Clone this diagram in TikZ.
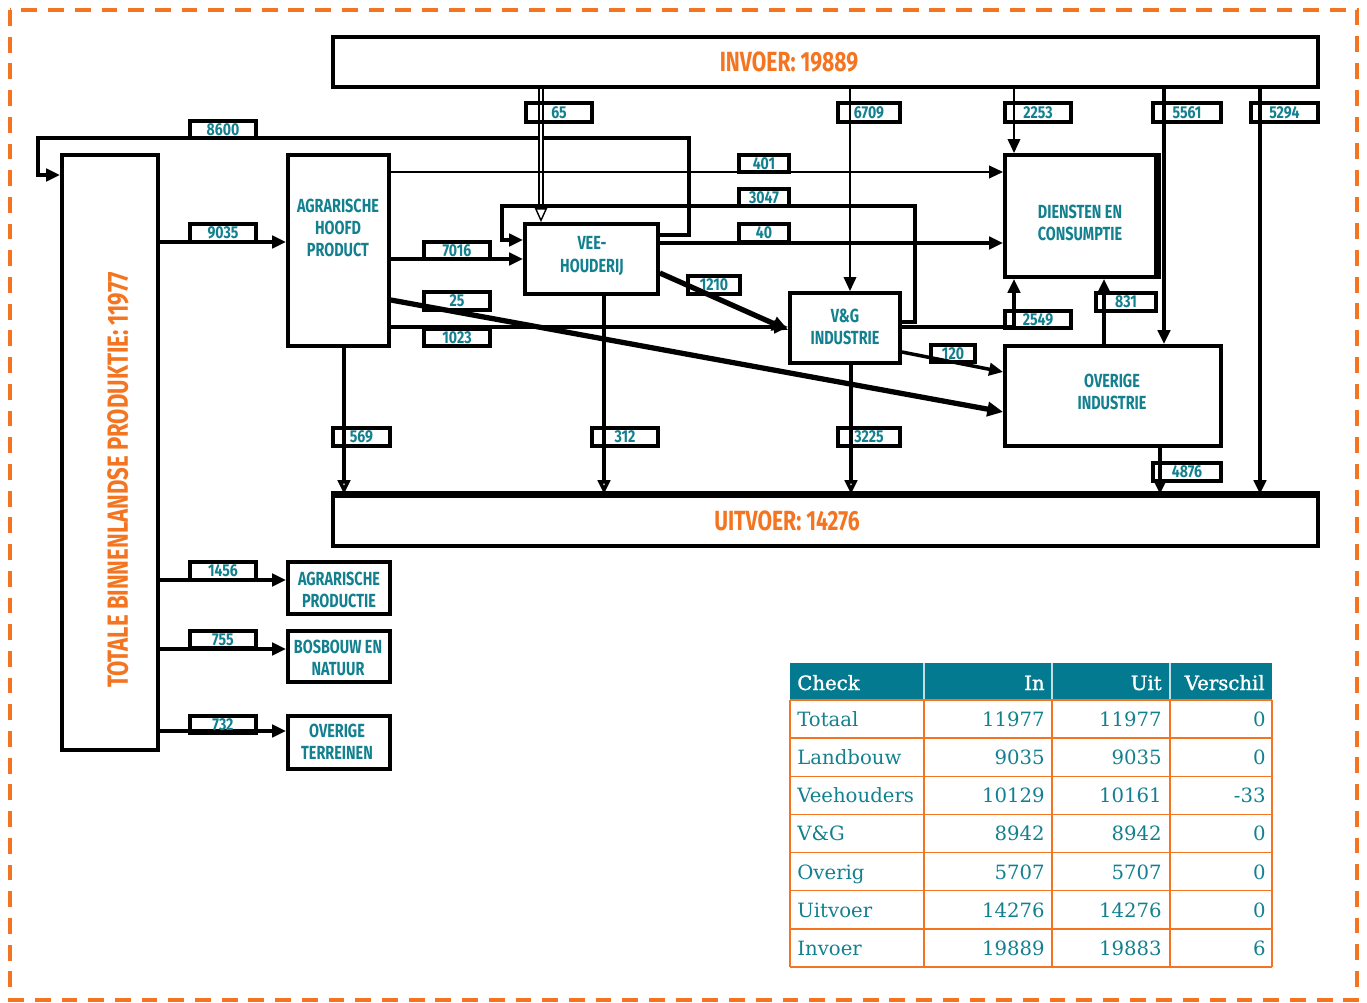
\documentclass[tikz,border=0pt]{standalone}
\usepackage{fontspec}
\setmainfont{DejaVu Serif}
\newfontfamily\hfont[FakeBold=1.3]{DejaVu Serif}
\newfontfamily\cond[FakeStretch=0.76]{Fira Sans}
\newfontfamily\condl[FakeStretch=0.82]{Fira Sans}
\usetikzlibrary{arrows.meta}
\definecolor{orng}{HTML}{F47521}
\definecolor{tl}{HTML}{13808F}
\definecolor{hdr}{HTML}{037A8F}
\newcommand\mkbox[6]{\node[blk,minimum width={(#4-#2)*0.02cm},minimum height={(#5-#3)*0.02cm}] (#1) at ({(#2+#4)/2},{(#3+#5)/2}) {#6};}
\newcommand\mklab[6]{\node[lab,minimum width={(#4-#2)*0.02cm},minimum height={(#5-#3)*0.02cm}] (#1) at ({(#2+#4)/2},{(#3+#5)/2}) {#6};}
\begin{document}
\begin{tikzpicture}[x=0.02cm,y=-0.02cm,
 blk/.style={draw, line width=2.1pt, inner sep=0pt},
 btxt/.style={text=tl, font=\cond\bfseries\fontsize{10.8}{12.6}\selectfont, align=center, inner sep=0pt},
 lab/.style={draw, line width=1.9pt, inner sep=0pt, text=tl, font=\condl\bfseries\fontsize{9.8}{10}\selectfont},
 arr/.style={line width=2pt, -{Triangle[length=8pt,width=7pt]}},
 oarr/.style={line width=2pt, -{Triangle[open,length=8pt,width=7pt]}},
 thk/.style={line width=3pt, -{Triangle[length=9pt,width=8pt]}},
 big/.style={text=orng, font=\cond\bfseries\fontsize{15.8}{18}\selectfont, inner sep=0pt},
 tc/.style={text=tl, font=\fontsize{11.2}{13}\selectfont, inner sep=0pt},
 th/.style={text=white, font=\hfont\fontsize{11.2}{13}\selectfont, inner sep=0pt},
]
\useasboundingbox (0,0) rectangle (1367,1003);
% frame
\draw[orng, line width=2.3pt, dash pattern=on 9pt off 6.2pt] (10,10) rectangle (1357,1000);

% boxes
\mkbox{inv}{333}{37}{1318}{87}{}
\mkbox{uit}{333}{496}{1318}{546}{}
\mkbox{tot}{62}{155}{158}{750}{}
\mkbox{agr}{288}{155}{389}{346}{}
\mkbox{vee}{525}{224}{658}{294}{}
\mkbox{vg}{790}{293}{900}{363}{}
\mkbox{dien}{1005}{155}{1156}{277}{}
\mkbox{ovi}{1005}{346}{1221}{446}{}
\mkbox{agp}{288}{562}{390}{614}{}
\mkbox{bos}{288}{631}{390}{682}{}
\mkbox{ovt}{288}{716}{390}{769}{}
\draw[line width=3.2pt] (uit.north west) -- (uit.north east);
\draw[line width=3.2pt] (dien.north east) -- (dien.south east);

\node[big] (invt) at (789,62) {INVOER: 19889};
\node[big] (uitt) at (787,521) {UITVOER: 14276};
\node[big, rotate=90, font=\cond\bfseries\fontsize{16.6}{18}\selectfont] (tott) at (118,480) {TOTALE BINNENLANDSE PRODUKTIE: 11977};
\node[btxt] (agrt) at (338,228) {AGRARISCHE\\HOOFD\\PRODUCT};
\node[btxt] (veet) at (592,256) {VEE-\\HOUDERIJ};
\node[btxt] (vgt) at (845,327) {V\&G\\INDUSTRIE};
\node[btxt] (dient) at (1080,223) {DIENSTEN EN\\CONSUMPTIE};
\node[btxt] (ovit) at (1112,392) {OVERIGE\\INDUSTRIE};
\node[btxt] (agpt) at (339,590) {AGRARISCHE\\PRODUCTIE};
\node[btxt] (bost) at (338,658) {BOSBOUW EN\\NATUUR};
\node[btxt] (ovtt) at (337,742) {OVERIGE\\TERREINEN};

% helper coordinates
\foreach \h in {138,172,175,235,240,242,243,259,273,300,322,327,330,352,372,412,580,649,731}
  {\coordinate (h\h) at (0,\h);}
\foreach \v in {344,541,604,850,851,1014,1104,1160,1164,1260}
  {\coordinate (v\v) at (\v,0);}
\coordinate (k1) at (689,138);
\coordinate (k2) at (38,138);
\coordinate (k3) at (915,206);
\coordinate (k4) at (502,206);

% connectors
\draw[arr, line width=2.4pt] (vee.east |- h235) -| (k1) -- (k2) |- (tot.west |- h175);
\draw[arr] (tot.east |- h242) -- (agr.west |- h242);
\draw[double, double distance=1.3pt, line width=0.8pt, -{Triangle[open,length=8pt,width=7pt]}] (inv.south -| v541) -- (vee.north -| v541);
\draw[arr, line width=1.4pt] (inv.south -| v850) -- (vg.north -| v850);
\draw[arr, line width=1.4pt] (inv.south -| v1014) -- (dien.north -| v1014);
\draw[arr] (inv.south -| v1164) -- (ovi.north -| v1164);
\draw[arr] (inv.south -| v1260) -- (uit.north -| v1260);
\draw[arr, line width=1.6pt] (agr.east |- h172) -- (dien.west |- h172);
\draw[arr, line width=2.4pt] (vg.east |- h322) -| (k3) -- (k4) |- (vee.west |- h240);
\draw[arr, line width=2.4pt] (vee.east |- h243) -- (dien.west |- h243);
\draw[arr] (agr.east |- h259) -- (vee.west |- h259);
\draw[thk] (agr.east |- h300) -- (ovi.west |- h412);
\draw[arr] (agr.east |- h327) -- (vg.west |- h327);
\draw[thk] (vee.east |- h273) -- (vg.west |- h330);
\draw[arr, line width=2.4pt] (vg.east |- h327) -| (dien.south -| v1014);
\draw[arr] (ovi.north -| v1104) -- (dien.south -| v1104);
\draw[arr] (vg.east |- h352) -- (ovi.west |- h372);
\draw[oarr] (agr.south -| v344) -- (uit.north -| v344);
\draw[oarr] (vee.south -| v604) -- (uit.north -| v604);
\draw[oarr] (vg.south -| v851) -- (uit.north -| v851);
\draw[arr] (ovi.south -| v1160) -- (uit.north -| v1160);
\draw[arr, line width=2.4pt] (tot.east |- h580) -- (agp.west |- h580);
\draw[arr, line width=2.4pt] (tot.east |- h649) -- (bos.west |- h649);
\draw[arr, line width=2.8pt] (tot.east |- h731) -- (ovt.west |- h731);

% labels
\mklab{l8600}{190}{121}{256}{138}{8600}
\mklab{l9035}{190}{224}{256}{242}{9035}
\mklab{l65}{526}{103}{592}{122}{65}
\mklab{l6709}{838}{103}{900}{122}{6709}
\mklab{l2253}{1005}{103}{1071}{122}{2253}
\mklab{l5561}{1153}{103}{1221}{122}{5561}
\mklab{l5294}{1251}{103}{1318}{122}{5294}
\mklab{l401}{739}{155}{789}{172}{401}
\mklab{l3047}{739}{189}{789}{206}{3047}
\mklab{l40}{739}{224}{789}{242}{40}
\mklab{l7016}{424}{242}{490}{259}{7016}
\mklab{l25}{424}{292}{490}{310}{25}
\mklab{l1023}{424}{329}{490}{346}{1023}
\mklab{l1210}{688}{276}{740}{294}{1210}
\mklab{l2549}{1005}{311}{1071}{328}{2549}
\mklab{l831}{1096}{293}{1156}{311}{831}
\mklab{l120}{931}{345}{975}{362}{120}
\mklab{l569}{333}{428}{390}{446}{569}
\mklab{l312}{592}{428}{658}{446}{312}
\mklab{l3225}{838}{428}{900}{446}{3225}
\mklab{l4876}{1153}{463}{1221}{481}{4876}
\mklab{l1456}{190}{562}{256}{580}{1456}
\mklab{l755}{190}{631}{256}{648}{755}
\mklab{l732}{190}{716}{256}{733}{732}

% table
\fill[hdr] (790,663) rectangle (1272,700);
\foreach \x in {924,1052,1170}
  {\draw[white!75!hdr, line width=0.8pt] (\x,663) -- (\x,700);}
\foreach \i in {0,...,7}
  {\draw[orng, line width=0.8pt] (790,{700+38.14*\i}) -- (1272,{700+38.14*\i});}
\foreach \x in {790,924,1052,1170,1272}
  {\draw[orng, line width=0.8pt] (\x,700) -- (\x,967);}
\node[th, anchor=base west] (hc) at (797,690) {Check};
\node[th, anchor=base east] (hi) at (1045,690) {In};
\node[th, anchor=base east] (hu) at (1162,690) {Uit};
\node[th, anchor=base east] (hv) at (1265,690) {Verschil};
\foreach \n/\a/\b/\c [count=\i] in {Totaal/11977/11977/0, Landbouw/9035/9035/0, Veehouders/10129/10161/-33, V\&G/8942/8942/0, Overig/5707/5707/0, Uitvoer/14276/14276/0, Invoer/19889/19883/6}
{
  \pgfmathsetmacro\yy{700+38.14*(\i-0.5)+7.5}
  \node[tc, anchor=base west] (r\i a) at (797,\yy) {\n};
  \node[tc, anchor=base east] (r\i b) at (1045,\yy) {\a};
  \node[tc, anchor=base east] (r\i c) at (1162,\yy) {\b};
  \node[tc, anchor=base east] (r\i d) at (1266,\yy) {\c};
}
\end{tikzpicture}
\end{document}
